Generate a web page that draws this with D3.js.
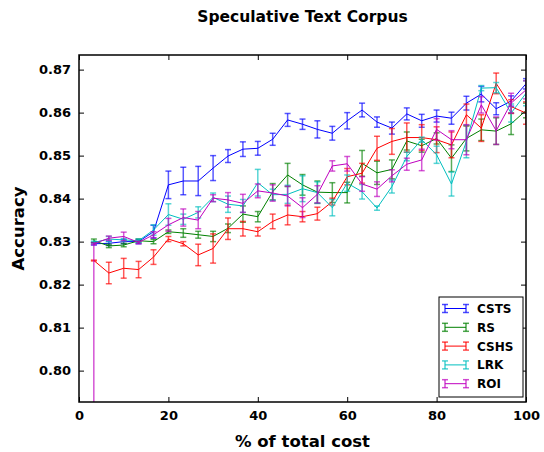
<html>
<head>
<meta charset="utf-8">
<script src="https://d3js.org/d3.v7.min.js"></script>
<style>
  body { margin: 0; background: #fff; }
  text { font-family: "DejaVu Sans", sans-serif; font-weight: bold; }
</style>
</head>
<body>
<div id="chart"></div>
<script>
// % of total cost at each step
const pct = [3.33, 6.67, 10, 13.33, 16.67, 20, 23.33, 26.67, 30, 33.33,
             36.67, 40, 43.33, 46.67, 50, 53.33, 56.67, 60, 63.33, 66.67,
             70, 73.33, 76.67, 80, 83.33, 86.67, 90, 93.33, 96.67, 100];

const csts = [0.8295, 0.8296, 0.8300, 0.8300, 0.8323, 0.8432, 0.8441, 0.8441, 0.8471, 0.8499,
              0.8515, 0.8517, 0.8538, 0.8583, 0.8573, 0.8561, 0.8552, 0.8581, 0.8606, 0.8578,
              0.8564, 0.8597, 0.8581, 0.8592, 0.8587, 0.8622, 0.8643, 0.8609, 0.8627, 0.8667];
const cstsErr = [0.0003, 0.0005, 0.0005, 0.0005, 0.0015, 0.0032, 0.0032, 0.0034, 0.0029, 0.0015,
                 0.0017, 0.0016, 0.0014, 0.0015, 0.0012, 0.0020, 0.0016, 0.0019, 0.0016, 0.0012,
                 0.0014, 0.0014, 0.0015, 0.0014, 0.0014, 0.0016, 0.0018, 0.0014, 0.0012, 0.0012];

const rs = [0.8302, 0.8290, 0.8292, 0.8302, 0.8300, 0.8323, 0.8320, 0.8316, 0.8312, 0.8331,
            0.8364, 0.8358, 0.8416, 0.8455, 0.8432, 0.8415, 0.8414, 0.8414, 0.8482, 0.8460,
            0.8468, 0.8534, 0.8523, 0.8540, 0.8494, 0.8540, 0.8560, 0.8557, 0.8574, 0.8605];
const rsErr = [0.0004, 0.0004, 0.0004, 0.0004, 0.0005, 0.0004, 0.0010, 0.0008, 0.0012, 0.0010,
               0.0019, 0.0012, 0.0019, 0.0027, 0.0024, 0.0026, 0.0023, 0.0024, 0.0030, 0.0027,
               0.0022, 0.0021, 0.0015, 0.0013, 0.0031, 0.0029, 0.0025, 0.0031, 0.0025, 0.0017];

const cshs = [0.8256, 0.8227, 0.8238, 0.8235, 0.8264, 0.8306, 0.8295, 0.8269, 0.8284, 0.8330,
              0.8330, 0.8323, 0.8347, 0.8362, 0.8358, 0.8365, 0.8393, 0.8451, 0.8459, 0.8517,
              0.8533, 0.8542, 0.8542, 0.8537, 0.8525, 0.8595, 0.8564, 0.8668, 0.8614, 0.8599];
const cshsErr = [0.0001, 0.0025, 0.0023, 0.0019, 0.0017, 0.0006, 0.0005, 0.0025, 0.0034, 0.0025,
                 0.0017, 0.0010, 0.0017, 0.0023, 0.0012, 0.0015, 0.0008, 0.0019, 0.0023, 0.0028,
                 0.0030, 0.0034, 0.0030, 0.0030, 0.0030, 0.0025, 0.0031, 0.0024, 0.0016, 0.0026];

const lrk = [0.8298, 0.8306, 0.8304, 0.8302, 0.8327, 0.8363, 0.8352, 0.8368, 0.8403, 0.8387,
             0.8383, 0.8437, 0.8409, 0.8410, 0.8423, 0.8414, 0.8379, 0.8436, 0.8416, 0.8378,
             0.8428, 0.8498, 0.8537, 0.8502, 0.8434, 0.8533, 0.8657, 0.8658, 0.8599, 0.8645];
const lrkErr = [0.0003, 0.0006, 0.0003, 0.0004, 0.0012, 0.0025, 0.0012, 0.0013, 0.0010, 0.0019,
                0.0015, 0.0031, 0.0013, 0.0021, 0.0030, 0.0025, 0.0019, 0.0019, 0.0017, 0.0005,
                0.0015, 0.0010, 0.0006, 0.0020, 0.0028, 0.0038, 0.0006, 0.0012, 0.0021, 0.0029];

const roi = [0.8295, 0.8308, 0.8312, 0.8298, 0.8316, 0.8339, 0.8356, 0.8350, 0.8401, 0.8397,
             0.8389, 0.8418, 0.8413, 0.8406, 0.8379, 0.8410, 0.8476, 0.8481, 0.8434, 0.8422,
             0.8453, 0.8480, 0.8490, 0.8561, 0.8537, 0.8537, 0.8618, 0.8558, 0.8622, 0.8653];
const roiErr = [0.0002, 0.0005, 0.0010, 0.0003, 0.0007, 0.0015, 0.0020, 0.0020, 0.0008, 0.0017,
                0.0021, 0.0016, 0.0019, 0.0023, 0.0023, 0.0020, 0.0012, 0.0017, 0.0017, 0.0017,
                0.0014, 0.0014, 0.0025, 0.0025, 0.0021, 0.0035, 0.0019, 0.0032, 0.0023, 0.0021];
// ROI curve starts from far below the visible range at the first step
const roiStart = 0.70;

const names = ["CSTS", "RS", "CSHS", "LRK", "ROI"];
const colors = ["#0000ff", "#008000", "#ff0000", "#00bfbf", "#bf00bf"];

const xTicks = [0, 20, 40, 60, 80, 100];
const yTicks = [0.80, 0.81, 0.82, 0.83, 0.84, 0.85, 0.86, 0.87];
const xDomain = [0, 100];
const yDomain = [0.7927, 0.8734];

const W = 544, H = 452;
const margin = {top: 55, right: 18, bottom: 50, left: 79};
const width = W - margin.left - margin.right,
      height = H - margin.top - margin.bottom;

const svg = d3.select("#chart").append("svg")
  .attr("width", W).attr("height", H);

const g = svg.append("g")
  .attr("transform", `translate(${margin.left},${margin.top})`);

const x = d3.scaleLinear().domain(xDomain).range([0, width]);
const y = d3.scaleLinear().domain(yDomain).range([height, 0]);

g.append("clipPath").attr("id", "clip")
  .append("rect").attr("width", width).attr("height", height);

const series = [
  {name: names[0], vals: csts, err: cstsErr},
  {name: names[1], vals: rs, err: rsErr},
  {name: names[2], vals: cshs, err: cshsErr},
  {name: names[3], vals: lrk, err: lrkErr},
  {name: names[4], vals: roi, err: roiErr, lead: roiStart}
];

const line = d3.line().x(d => x(d[0])).y(d => y(d[1]));
const plot = g.append("g").attr("clip-path", "url(#clip)");

series.forEach((s, i) => {
  const pts = pct.map((p, j) => [p, s.vals[j]]);
  if (s.lead !== undefined) pts.unshift([pct[0], s.lead]);
  plot.append("path")
    .attr("d", line(pts))
    .attr("fill", "none")
    .attr("stroke", colors[i])
    .attr("stroke-width", 1);

  const eb = plot.append("g")
    .attr("stroke", colors[i])
    .attr("stroke-width", 1.5)
    .attr("stroke-opacity", 0.65);
  pct.forEach((p, j) => {
    const cx = x(p), y0 = y(s.vals[j] - s.err[j]), y1 = y(s.vals[j] + s.err[j]);
    eb.append("line").attr("x1", cx).attr("x2", cx).attr("y1", y0).attr("y2", y1);
    eb.append("line").attr("x1", cx - 3).attr("x2", cx + 3).attr("y1", y0).attr("y2", y0);
    eb.append("line").attr("x1", cx - 3).attr("x2", cx + 3).attr("y1", y1).attr("y2", y1);
  });
});

// axes with inward ticks on all four sides
const xAxis = g.append("g").attr("transform", `translate(0,${height})`)
  .call(d3.axisBottom(x).tickValues(xTicks).tickSizeInner(-5).tickSizeOuter(0).tickPadding(9));
const xTop = g.append("g")
  .call(d3.axisTop(x).tickValues(xTicks).tickSizeInner(-5).tickSizeOuter(0).tickFormat(""));
const yAxis = g.append("g")
  .call(d3.axisLeft(y).tickValues(yTicks).tickSizeInner(-5).tickSizeOuter(0).tickPadding(8)
    .tickFormat(d3.format(".2f")));
const yRight = g.append("g").attr("transform", `translate(${width},0)`)
  .call(d3.axisRight(y).tickValues(yTicks).tickSizeInner(-5).tickSizeOuter(0).tickFormat(""));

[xAxis, xTop, yAxis, yRight].forEach(a => {
  a.select(".domain").remove();
  a.selectAll(".tick line").attr("stroke", "#000").attr("stroke-width", 1);
  a.selectAll(".tick text").attr("font-size", "13px").attr("font-weight", "bold")
    .attr("font-family", "DejaVu Sans").attr("fill", "#000");
});

g.append("rect")
  .attr("width", width).attr("height", height)
  .attr("fill", "none").attr("stroke", "#000").attr("stroke-width", 1.5);

// title and labels
svg.append("text")
  .attr("x", margin.left + width / 2).attr("y", 22)
  .attr("text-anchor", "middle").attr("font-size", "15.5px")
  .text("Speculative Text Corpus");

svg.append("text")
  .attr("x", margin.left + width / 2).attr("y", 447)
  .attr("text-anchor", "middle").attr("font-size", "16.5px")
  .text("% of total cost");

svg.append("text")
  .attr("transform", `translate(24,${margin.top + height / 2}) rotate(-90)`)
  .attr("text-anchor", "middle").attr("font-size", "16.5px")
  .text("Accuracy");

// legend
const lg = svg.append("g").attr("transform", "translate(439,297)");
lg.append("rect").attr("width", 84).attr("height", 100)
  .attr("fill", "#fff").attr("stroke", "#000").attr("stroke-width", 1);
names.forEach((n, i) => {
  const ly = 11.5 + i * 18.8;
  const row = lg.append("g").attr("stroke", colors[i]);
  row.append("line").attr("x1", 6).attr("x2", 27).attr("y1", ly).attr("y2", ly)
    .attr("stroke-width", 1);
  [6, 27].forEach(cx => {
    row.append("line").attr("x1", cx).attr("x2", cx).attr("y1", ly - 4).attr("y2", ly + 4)
      .attr("stroke-width", 1.5).attr("stroke-opacity", 0.7);
    row.append("line").attr("x1", cx - 3).attr("x2", cx + 3).attr("y1", ly - 4).attr("y2", ly - 4)
      .attr("stroke-width", 1.5).attr("stroke-opacity", 0.7);
    row.append("line").attr("x1", cx - 3).attr("x2", cx + 3).attr("y1", ly + 4).attr("y2", ly + 4)
      .attr("stroke-width", 1.5).attr("stroke-opacity", 0.7);
  });
  lg.append("text").attr("x", 38).attr("y", ly + 4.5)
    .attr("font-size", "12px").text(n);
});
</script>
</body>
</html>
